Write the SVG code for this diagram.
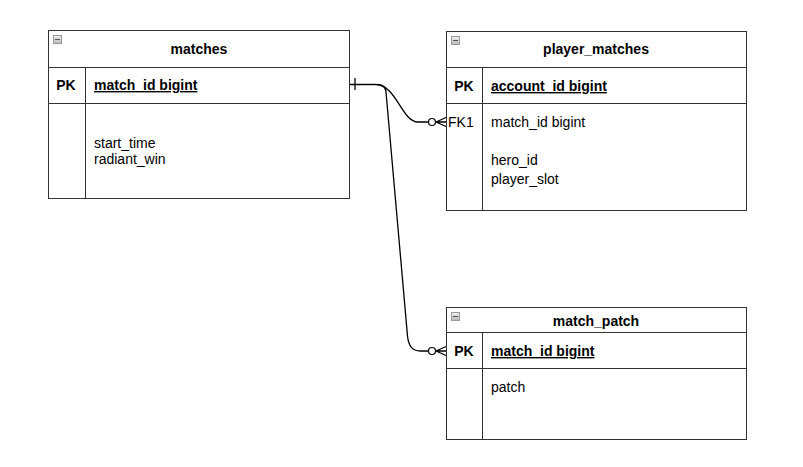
<svg xmlns="http://www.w3.org/2000/svg" width="803" height="467" viewBox="0 0 803 467">
<style>
.box{fill:#fff;stroke:#333;stroke-width:1}
.ln{stroke:#333;stroke-width:1;fill:none}
.t{font-family:"Liberation Sans",Arial,sans-serif;font-size:14px;fill:#000}
.b{font-weight:bold}
.u{text-decoration:underline}
.c{text-anchor:middle}
.edge{stroke:#000;stroke-width:1.3;fill:none}
</style>
<defs>
<linearGradient id="ig" x1="0" y1="0" x2="0" y2="1">
<stop offset="0" stop-color="#f2f2f2"/>
<stop offset="1" stop-color="#b8b8b8"/>
</linearGradient>
<g id="icon">
<rect x="0.5" y="0.5" width="8" height="8" fill="url(#ig)" stroke="#999" stroke-width="1"/>
<line x1="2" y1="4.5" x2="7" y2="4.5" stroke="#555" stroke-width="1"/>
</g>
</defs>

<g id="connectors">
<path class="edge" d="M350 84.5 L376 84.5 C396 84.5 402 122 418 122 L430 122"/>
<line class="edge" x1="355" y1="78" x2="355" y2="90"/>
<circle cx="432" cy="122" r="3.5" fill="#fff" stroke="#000" stroke-width="1.2"/>
<path class="edge" d="M436 122 L446 117.5 M436 122 L446 122 M436 122 L446 126.5"/>
<path class="edge" d="M378 84.5 Q385.5 85 386 92 L407.5 336 Q409 351 420 351 L430 351"/>
<circle cx="432" cy="351" r="3.5" fill="#fff" stroke="#000" stroke-width="1.2"/>
<path class="edge" d="M436 351 L446 346.5 M436 351 L446 351 M436 351 L446 355.5"/>
</g>

<g id="matches">
<rect class="box" x="48.5" y="30.5" width="301" height="168"/>
<line class="ln" x1="48.5" y1="67.5" x2="349.5" y2="67.5"/>
<line class="ln" x1="48.5" y1="103.5" x2="349.5" y2="103.5"/>
<line class="ln" x1="85.5" y1="67.5" x2="85.5" y2="198.5"/>
<use href="#icon" x="53" y="35"/>
<text class="t b c" x="199" y="54">matches</text>
<text class="t b c" x="66" y="90">PK</text>
<text class="t b u" x="94" y="90">match_id bigint</text>
<text class="t" x="94" y="148">start_time</text>
<text class="t" x="94" y="164">radiant_win</text>
</g>

<g id="player_matches">
<rect class="box" x="446.5" y="31.5" width="300" height="179"/>
<line class="ln" x1="446.5" y1="67.5" x2="746.5" y2="67.5"/>
<line class="ln" x1="446.5" y1="103.5" x2="746.5" y2="103.5"/>
<line class="ln" x1="482.5" y1="67.5" x2="482.5" y2="210.5"/>
<use href="#icon" x="451" y="36"/>
<text class="t b c" x="596" y="54">player_matches</text>
<text class="t b c" x="464" y="91">PK</text>
<text class="t b u" x="491" y="91">account_id bigint</text>
<text class="t" x="448" y="127">FK1</text>
<text class="t" x="491" y="127">match_id bigint</text>
<text class="t" x="491" y="165">hero_id</text>
<text class="t" x="491" y="184">player_slot</text>
</g>

<g id="match_patch">
<rect class="box" x="446.5" y="307.5" width="300" height="132"/>
<line class="ln" x1="446.5" y1="332.5" x2="746.5" y2="332.5"/>
<line class="ln" x1="446.5" y1="368.5" x2="746.5" y2="368.5"/>
<line class="ln" x1="482.5" y1="332.5" x2="482.5" y2="439.5"/>
<use href="#icon" x="451" y="312"/>
<text class="t b c" x="596" y="326">match_patch</text>
<text class="t b c" x="464" y="356">PK</text>
<text class="t b u" x="491" y="356">match_id bigint</text>
<text class="t" x="491" y="392">patch</text>
</g>
</svg>
